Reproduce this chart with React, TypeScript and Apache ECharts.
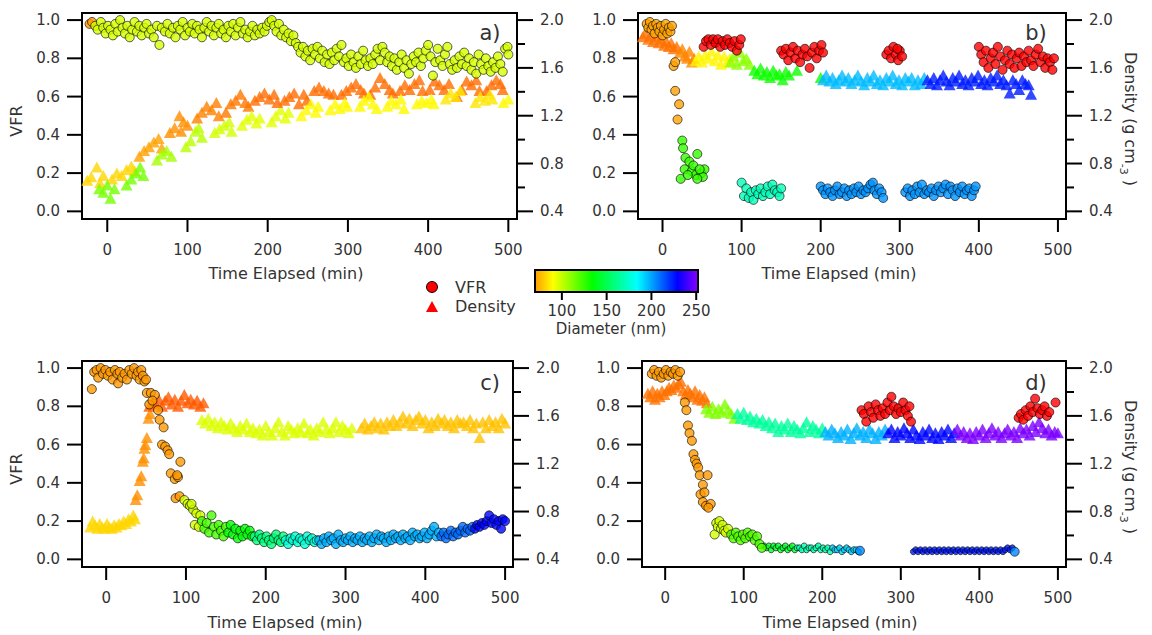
import React, { useEffect, useRef } from 'react';
import * as echarts from 'echarts';

const FONT = '"DejaVu Sans", sans-serif';
const TXT = '#333333';

const timeTicks = [0, 100, 200, 300, 400, 500];
const vfrTicks = [0, 0.2, 0.4, 0.6, 0.8, 1.0];
const densityTicks = [0.4, 0.8, 1.2, 1.6, 2.0];
const densityMinorTicks = [0.6, 1.0, 1.4, 1.8];
const diameterTicks = [100, 150, 200, 250];
const panelLetters = ['a)', 'b)', 'c)', 'd)'];
const xTitle = 'Time Elapsed (min)';

// colormap: [diameter (nm), colour]
const colorStops: [number, string][] = [
  [30, '#ff0000'], [56, '#ff5500'], [70, '#ff9900'], [90, '#ffff00'],
  [134, '#00ff00'], [184, '#00ffff'], [229, '#0000ff'], [252, '#8800ff'],
];
const BAR_MIN = 70;
const BAR_MAX = 252;

// ---------------- panel a ----------------
const aVfrStart = [[-22, 0.98], [-19, 0.99]];
const aVfrMain = [
  [-15, 0.97], [-12, 0.95], [-8, 0.99], [-5, 0.96], [-2, 0.93], [1, 0.97], [4, 0.95], [7, 0.92], [10, 0.98], [13, 0.94],
  [16, 1.0], [19, 0.96], [22, 0.93], [25, 0.97], [28, 0.91], [31, 0.95], [34, 0.99], [37, 0.94], [40, 0.97], [43, 0.92],
  [46, 0.96], [49, 0.98], [52, 0.93], [55, 0.95], [58, 0.91], [62, 0.97], [65, 0.87], [68, 0.96], [72, 0.94], [75, 0.98],
  [78, 0.93], [82, 0.96], [85, 0.91], [88, 0.97], [91, 0.95], [94, 0.99], [97, 0.92], [100, 0.96], [103, 0.94], [106, 0.98],
  [109, 0.93], [112, 0.97], [115, 0.95], [118, 0.91], [121, 0.96], [124, 0.99], [127, 0.94], [130, 0.97], [133, 0.92], [136, 0.96],
  [139, 0.98], [142, 0.93], [145, 0.95], [148, 0.91], [151, 0.97], [154, 0.94], [157, 0.98], [160, 0.92], [163, 0.96], [166, 0.99],
  [169, 0.93], [172, 0.95], [175, 0.91], [178, 0.94], [181, 0.97], [184, 0.92], [187, 0.95], [190, 0.93], [193, 0.96], [196, 0.94],
  [199, 0.97], [202, 0.99], [205, 1.0], [208, 0.97], [211, 0.94], [214, 0.98], [217, 0.92], [220, 0.95], [223, 0.91], [226, 0.93],
  [229, 0.89], [232, 0.92], [235, 0.88], [238, 0.86], [241, 0.83], [244, 0.86], [247, 0.81], [250, 0.84], [253, 0.79], [256, 0.85],
  [259, 0.82], [262, 0.86], [265, 0.8], [268, 0.84], [271, 0.78], [274, 0.82], [277, 0.77], [280, 0.83], [283, 0.79], [286, 0.85],
  [289, 0.81], [292, 0.87], [295, 0.78], [298, 0.8], [301, 0.76], [304, 0.82], [307, 0.78], [310, 0.75], [313, 0.81], [316, 0.77],
  [319, 0.84], [322, 0.79], [325, 0.76], [328, 0.8], [331, 0.77], [334, 0.82], [337, 0.85], [340, 0.79], [343, 0.86], [346, 0.83],
  [349, 0.78], [352, 0.81], [355, 0.76], [358, 0.8], [361, 0.74], [364, 0.78], [367, 0.82], [370, 0.75], [373, 0.79], [376, 0.72],
  [379, 0.77], [382, 0.81], [385, 0.78], [388, 0.83], [391, 0.76], [394, 0.8], [397, 0.84], [400, 0.87], [403, 0.81], [406, 0.71],
  [409, 0.78], [412, 0.85], [415, 0.79], [418, 0.76], [421, 0.82], [424, 0.86], [427, 0.77], [430, 0.74], [433, 0.79], [436, 0.75],
  [439, 0.81], [442, 0.77], [445, 0.83], [448, 0.76], [451, 0.8], [454, 0.74], [457, 0.78], [460, 0.72], [463, 0.82], [466, 0.77],
  [469, 0.74], [472, 0.8], [475, 0.76], [478, 0.73], [481, 0.78], [484, 0.75], [487, 0.81], [490, 0.77], [493, 0.73], [496, 0.85],
  [499, 0.86], [500, 0.82],
];
const aDens82 = [[-25, 0.66], [-20, 0.69], [-13, 0.77], [-9, 0.64], [-5, 0.70], [6, 0.67], [12, 0.72], [18, 0.70], [24, 0.75], [30, 0.78], [34, 0.74]];
const aDens114 = [[-10, 0.59], [-5, 0.56], [0, 0.62], [4, 0.51], [9, 0.59], [24, 0.62], [30, 0.67], [36, 0.72], [41, 0.77], [45, 0.70]];
const aDens72 = [[40, 0.86], [46, 0.91], [52, 0.94], [58, 0.98], [64, 1.01], [68, 0.93]];
const aDens106 = [[62, 0.83], [68, 0.88], [74, 0.91], [80, 0.86]];
const aDens68 = [[78, 1.06], [84, 1.10], [90, 1.20], [95, 1.15], [100, 1.12], [92, 1.07]];
const aDens102 = [[98, 0.94], [104, 0.99], [110, 1.07], [114, 1.10], [118, 1.02]];
const aDens65 = [[112, 1.18], [118, 1.23], [124, 1.28], [130, 1.25], [136, 1.31], [139, 1.20]];
const aDens98 = [[134, 1.06], [140, 1.09], [146, 1.12], [152, 1.15], [155, 1.07]];
const aDens63 = [[148, 1.23], [154, 1.30], [160, 1.33], [166, 1.38], [172, 1.31], [176, 1.28]];
const aDens95 = [[168, 1.12], [174, 1.17], [180, 1.20], [186, 1.14], [190, 1.18], [205, 1.15], [210, 1.20], [216, 1.25], [222, 1.18], [226, 1.23]];
const aDens61 = [
  [184, 1.33], [190, 1.36], [196, 1.39], [202, 1.34], [208, 1.38], [212, 1.31],
  [221, 1.33], [227, 1.36], [233, 1.39], [239, 1.30], [245, 1.38], [249, 1.33],
  [258, 1.41], [264, 1.44], [270, 1.41], [276, 1.39], [282, 1.38],
  [292, 1.38], [298, 1.41], [304, 1.44], [310, 1.47], [316, 1.42], [320, 1.39],
  [328, 1.38], [334, 1.44], [340, 1.52], [346, 1.47], [352, 1.42], [356, 1.39],
  [365, 1.41], [371, 1.46], [377, 1.42], [383, 1.47], [389, 1.50], [393, 1.41],
  [402, 1.42], [408, 1.49], [414, 1.46], [420, 1.42], [426, 1.47],
  [436, 1.36], [442, 1.42], [448, 1.49], [454, 1.46], [460, 1.50], [464, 1.41],
  [473, 1.41], [479, 1.46], [485, 1.50], [490, 1.47], [493, 1.42],
];
const aDens89 = [
  [242, 1.20], [248, 1.25], [254, 1.30], [260, 1.23], [263, 1.28],
  [278, 1.25], [284, 1.30], [290, 1.26], [296, 1.31], [299, 1.28],
  [315, 1.28], [320, 1.33], [326, 1.36], [331, 1.30], [336, 1.26],
  [349, 1.28], [354, 1.33], [360, 1.30], [366, 1.34], [370, 1.26],
  [386, 1.30], [392, 1.33], [398, 1.31], [404, 1.34], [407, 1.30],
  [494, 1.31], [500, 1.34],
];
const aDens85 = [[422, 1.34], [428, 1.39], [434, 1.36], [440, 1.41], [459, 1.31], [465, 1.36], [471, 1.33], [477, 1.38], [480, 1.34]];

// ---------------- panel b ----------------
const bVfrOrange = [
  [-20, 0.98], [-18, 0.96], [-16, 0.99], [-14, 0.95], [-12, 0.97], [-10, 0.93], [-8, 0.98], [-6, 0.96], [-4, 0.94], [-2, 0.97],
  [0, 0.92], [2, 0.95], [4, 0.98], [6, 0.93], [8, 0.96], [10, 0.94], [12, 0.97], [14, 0.76], [16, 0.78], [16, 0.63], [21, 0.56], [19, 0.48],
];
const bVfrGreen = [[25, 0.37], [26, 0.33], [29, 0.28], [34, 0.26], [44, 0.30], [28, 0.22], [23, 0.17], [37, 0.21], [42, 0.19], [49, 0.20], [53, 0.22], [51, 0.18], [44, 0.17], [32, 0.19], [39, 0.24], [47, 0.22]];
const bVfrTeal = [[100, 0.15], [103, 0.08], [106, 0.12], [109, 0.07], [112, 0.10], [115, 0.06], [118, 0.11], [121, 0.09], [124, 0.12], [127, 0.08], [130, 0.10], [133, 0.13], [136, 0.09], [139, 0.14], [142, 0.11], [145, 0.10], [148, 0.08], [150, 0.12]];
const bVfrBlue = [
  [200, 0.13], [203, 0.11], [206, 0.09], [209, 0.12], [212, 0.10], [215, 0.08], [218, 0.11], [221, 0.13], [224, 0.09], [227, 0.10],
  [230, 0.12], [233, 0.08], [236, 0.11], [239, 0.09], [242, 0.12], [245, 0.10], [248, 0.13], [251, 0.09], [254, 0.11], [257, 0.10],
  [260, 0.12], [263, 0.14], [266, 0.15], [268, 0.11], [271, 0.09], [274, 0.12], [277, 0.10], [279, 0.07],
  [307, 0.10], [310, 0.12], [313, 0.08], [316, 0.11], [319, 0.09], [322, 0.13], [325, 0.10], [328, 0.14], [331, 0.09], [334, 0.11],
  [337, 0.10], [340, 0.12], [343, 0.08], [346, 0.11], [349, 0.13], [352, 0.10], [355, 0.12], [358, 0.14], [361, 0.09], [364, 0.13],
  [367, 0.11], [370, 0.08], [373, 0.12], [376, 0.10], [379, 0.13], [382, 0.09], [385, 0.11], [388, 0.12], [391, 0.08], [394, 0.11], [396, 0.13],
];
const bVfrRed = [
  [52, 0.86], [55, 0.89], [58, 0.90], [61, 0.87], [64, 0.90], [67, 0.88], [70, 0.90], [73, 0.86], [76, 0.89], [79, 0.87],
  [82, 0.90], [85, 0.88], [88, 0.86], [91, 0.89], [94, 0.84], [97, 0.87], [99, 0.90],
  [150, 0.84], [153, 0.82], [156, 0.85], [159, 0.79], [162, 0.83], [165, 0.86], [168, 0.80], [171, 0.84], [174, 0.78], [177, 0.82],
  [180, 0.85], [183, 0.81], [186, 0.75], [189, 0.83], [192, 0.86], [195, 0.80], [198, 0.84], [201, 0.87], [203, 0.83],
  [283, 0.82], [286, 0.84], [289, 0.80], [292, 0.86], [295, 0.82], [298, 0.79], [300, 0.84], [303, 0.81], [297, 0.85],
  [400, 0.86], [403, 0.82], [406, 0.78], [409, 0.84], [412, 0.75], [415, 0.80], [418, 0.83], [421, 0.77], [424, 0.86], [427, 0.81],
  [430, 0.74], [433, 0.79], [436, 0.84], [439, 0.77], [442, 0.82], [445, 0.75], [448, 0.80], [451, 0.83], [454, 0.76], [457, 0.81],
  [460, 0.78], [463, 0.84], [466, 0.79], [469, 0.76], [472, 0.82], [475, 0.85], [478, 0.78], [481, 0.81], [484, 0.75], [487, 0.80],
  [490, 0.78], [493, 0.74], [495, 0.80],
];
const bDens62 = [[-25, 1.86], [-22, 1.89], [-18, 1.84], [-15, 1.87], [-12, 1.82], [-8, 1.86], [-5, 1.81], [-2, 1.84], [2, 1.79], [5, 1.82], [8, 1.78], [11, 1.81], [14, 1.76], [18, 1.78]];
const bDens66 = [[22, 1.73], [25, 1.76], [28, 1.70], [31, 1.68], [34, 1.74], [37, 1.65], [40, 1.68]];
const bDens88 = [[42, 1.66], [46, 1.70], [50, 1.65], [54, 1.71], [58, 1.68], [62, 1.74], [66, 1.66], [70, 1.71], [74, 1.63], [78, 1.70], [82, 1.65], [85, 1.68]];
const bDens110 = [[86, 1.65], [90, 1.70], [94, 1.63], [98, 1.73], [102, 1.66], [106, 1.68], [110, 1.63]];
const bDens132 = [[116, 1.58], [120, 1.55], [124, 1.60], [128, 1.54], [132, 1.57], [136, 1.52], [140, 1.58], [144, 1.54], [148, 1.55], [152, 1.50], [156, 1.57], [160, 1.54], [170, 1.58], [200, 1.52]];
const bDens196 = [
  [203, 1.50], [207, 1.54], [211, 1.49], [215, 1.52], [219, 1.47], [223, 1.50], [227, 1.54], [231, 1.49], [235, 1.52], [239, 1.47],
  [243, 1.50], [247, 1.54], [251, 1.49], [255, 1.46], [259, 1.52], [263, 1.49], [267, 1.54], [271, 1.47], [275, 1.50], [279, 1.46],
  [283, 1.52], [287, 1.49], [291, 1.54], [295, 1.47], [299, 1.50], [303, 1.46], [307, 1.52], [311, 1.49], [315, 1.52], [319, 1.46],
  [323, 1.50], [327, 1.47], [331, 1.52],
];
const bDens224 = [
  [335, 1.50], [339, 1.47], [343, 1.52], [347, 1.46], [351, 1.50], [355, 1.54], [359, 1.49], [363, 1.46], [367, 1.52], [371, 1.49],
  [375, 1.54], [379, 1.47], [383, 1.50], [387, 1.46], [391, 1.52], [395, 1.49], [399, 1.54], [403, 1.47], [407, 1.50], [411, 1.46],
  [415, 1.52], [419, 1.49], [423, 1.54], [427, 1.47], [431, 1.50], [435, 1.46], [439, 1.39], [443, 1.50], [447, 1.47], [451, 1.42],
  [455, 1.50], [459, 1.47], [463, 1.46], [466, 1.38],
];

// ---------------- panel c ----------------
const cVfrOrange = [
  [-18, 0.89], [-15, 0.98], [-12, 0.99], [-10, 0.95], [-7, 1.0], [-4, 0.97], [-1, 0.99], [2, 0.96], [5, 0.98], [8, 0.94],
  [11, 0.99], [14, 0.97], [15, 0.92], [17, 0.98], [20, 0.95], [23, 0.97], [26, 0.94], [29, 0.99], [32, 0.97], [35, 1.0],
  [38, 0.96], [40, 0.98], [42, 0.94], [44, 0.99], [46, 0.96], [48, 0.93], [50, 0.94], [51, 0.87], [56, 0.87], [61, 0.86],
  [54, 0.81], [58, 0.83], [65, 0.78], [67, 0.73], [72, 0.69], [70, 0.60], [74, 0.59], [77, 0.57], [79, 0.55], [93, 0.51],
  [81, 0.45], [86, 0.42], [90, 0.43], [89, 0.44], [87, 0.32], [92, 0.33],
];
const cVfrYG = [[98, 0.31], [102, 0.29], [105, 0.28], [109, 0.26], [113, 0.24], [118, 0.23], [111, 0.18], [116, 0.17], [107, 0.29]];
const cVfrGreen1 = [[120, 0.20], [123, 0.16], [126, 0.19], [129, 0.14], [132, 0.23], [135, 0.17], [138, 0.13], [141, 0.18], [144, 0.15], [147, 0.12], [150, 0.17]];
const cVfrGreen2 = [[153, 0.14], [156, 0.18], [159, 0.13], [162, 0.16], [165, 0.11], [168, 0.15], [171, 0.12], [174, 0.16], [177, 0.13], [180, 0.15], [183, 0.12]];
const cVfrTeal1 = [[186, 0.12], [189, 0.10], [192, 0.13], [195, 0.11], [198, 0.09], [201, 0.12], [204, 0.10], [207, 0.08], [210, 0.11], [213, 0.13], [216, 0.10], [219, 0.09], [222, 0.12]];
const cVfrTeal2 = [[225, 0.10], [228, 0.08], [231, 0.11], [234, 0.10], [237, 0.12], [240, 0.09], [243, 0.11], [246, 0.10], [249, 0.08], [252, 0.12], [255, 0.10], [258, 0.11], [261, 0.09], [264, 0.10]];
const cVfrSky = [
  [267, 0.10], [270, 0.08], [273, 0.11], [276, 0.09], [279, 0.12], [282, 0.10], [285, 0.11], [288, 0.08], [291, 0.13], [294, 0.10],
  [297, 0.09], [300, 0.11], [303, 0.10], [306, 0.12], [309, 0.09], [312, 0.11], [315, 0.10], [318, 0.12], [321, 0.09], [324, 0.11],
  [327, 0.10], [330, 0.12], [333, 0.09], [336, 0.11], [339, 0.13], [342, 0.10], [345, 0.12], [348, 0.11], [351, 0.09], [354, 0.12],
  [357, 0.10], [360, 0.13], [363, 0.11], [366, 0.12], [369, 0.10], [372, 0.13], [375, 0.11], [378, 0.12], [381, 0.10], [384, 0.14],
  [387, 0.12], [390, 0.13], [393, 0.11], [396, 0.12], [399, 0.14], [402, 0.11], [405, 0.13], [408, 0.15], [411, 0.17], [414, 0.12], [417, 0.14],
];
const cVfrBlue1 = [[420, 0.12], [423, 0.14], [426, 0.11], [429, 0.13], [432, 0.15], [435, 0.12], [438, 0.14], [441, 0.13], [444, 0.15], [447, 0.17], [450, 0.14], [453, 0.16], [456, 0.15], [459, 0.17]];
const cVfrBlue2 = [[462, 0.16], [465, 0.18], [468, 0.17], [471, 0.19], [474, 0.18], [477, 0.20], [480, 0.23], [483, 0.19], [486, 0.21], [489, 0.18], [492, 0.20], [495, 0.16], [497, 0.21], [500, 0.20]];
const cDens82 = [[-20, 0.67], [-17, 0.72], [-14, 0.69], [-11, 0.66], [-8, 0.70], [-5, 0.67], [-2, 0.66], [1, 0.70], [4, 0.67], [7, 0.66], [10, 0.69], [13, 0.67], [16, 0.70], [19, 0.69], [22, 0.72], [25, 0.70], [28, 0.74], [31, 0.72], [34, 0.77], [36, 0.74]];
const cDens68 = [[37, 0.90], [39, 0.94], [42, 1.06], [44, 1.10], [46, 1.22], [47, 1.25], [48, 1.33], [49, 1.36], [51, 1.42], [53, 1.58], [55, 1.62]];
const cDens57 = [[54, 1.68], [58, 1.71], [62, 1.70], [66, 1.74], [70, 1.68], [74, 1.73], [78, 1.76], [82, 1.70], [86, 1.74], [90, 1.68], [94, 1.73], [98, 1.78], [102, 1.71], [106, 1.74], [110, 1.70], [114, 1.73], [118, 1.68], [122, 1.71]];
const cDens96 = [
  [120, 1.57], [124, 1.54], [128, 1.58], [132, 1.52], [136, 1.55], [140, 1.50], [144, 1.55], [148, 1.52], [152, 1.49], [156, 1.54],
  [160, 1.50], [164, 1.47], [168, 1.52], [172, 1.49], [176, 1.54], [180, 1.47], [184, 1.50], [188, 1.46], [192, 1.49], [196, 1.44],
  [200, 1.52], [204, 1.47], [208, 1.44], [212, 1.50], [216, 1.55], [220, 1.47], [224, 1.44], [228, 1.52], [232, 1.49], [236, 1.46],
  [240, 1.50], [244, 1.47], [248, 1.54], [252, 1.46], [256, 1.49], [260, 1.44], [264, 1.50], [268, 1.47], [272, 1.55], [276, 1.49],
  [280, 1.46], [284, 1.50], [288, 1.55], [292, 1.47], [296, 1.52], [300, 1.49], [304, 1.46], [308, 1.50],
];
const cDens78 = [
  [320, 1.50], [324, 1.54], [328, 1.49], [332, 1.52], [336, 1.55], [340, 1.50], [344, 1.54], [348, 1.49], [352, 1.55], [356, 1.52],
  [360, 1.57], [364, 1.52], [368, 1.55], [372, 1.60], [376, 1.54], [380, 1.58], [384, 1.52], [388, 1.57], [392, 1.60], [396, 1.54],
  [400, 1.57], [404, 1.50], [408, 1.55], [412, 1.52], [416, 1.58], [420, 1.54], [424, 1.57], [428, 1.52], [432, 1.55], [436, 1.50],
  [440, 1.57], [444, 1.54], [448, 1.55], [452, 1.52], [456, 1.57], [460, 1.50], [464, 1.54], [468, 1.42], [472, 1.55], [476, 1.50],
  [480, 1.57], [484, 1.52], [488, 1.55], [492, 1.50], [496, 1.58], [500, 1.54],
];

// ---------------- panel d ----------------
const dVfrOrange = [
  [-17, 0.97], [-14, 0.99], [-11, 0.96], [-8, 0.98], [-5, 0.95], [-2, 0.97], [1, 0.99], [4, 0.96], [7, 0.98], [10, 0.97],
  [13, 0.99], [16, 0.96], [19, 0.98], [25, 0.82], [27, 0.78], [29, 0.70], [31, 0.66], [34, 0.62], [36, 0.55], [38, 0.52],
  [40, 0.50], [42, 0.48], [44, 0.44], [54, 0.44], [48, 0.39], [45, 0.34], [50, 0.35], [48, 0.30], [52, 0.28], [58, 0.29], [55, 0.27],
];
const dVfrYG = [[63, 0.13], [65, 0.19], [67, 0.17], [69, 0.20], [71, 0.16], [73, 0.18], [75, 0.15], [77, 0.14], [80, 0.16]];
const dVfrGreen = [[84, 0.13], [87, 0.11], [90, 0.14], [93, 0.12], [96, 0.10], [99, 0.13], [102, 0.11], [105, 0.14], [108, 0.12], [111, 0.13], [114, 0.10], [117, 0.12], [120, 0.08], [123, 0.06]];
const dVfrEnds = [[248, 0.045], [445, 0.04]];
const dVfrFine1 = [[126, 0.07], [129, 0.06], [132, 0.07], [135, 0.05], [138, 0.07], [141, 0.06], [144, 0.07], [147, 0.05], [150, 0.06], [153, 0.07], [156, 0.05], [159, 0.06], [162, 0.07], [165, 0.05]];
const dVfrFine2 = [[168, 0.06], [171, 0.06], [174, 0.05], [177, 0.07], [180, 0.05], [183, 0.06], [186, 0.06], [189, 0.05], [192, 0.06], [195, 0.07], [198, 0.05], [201, 0.06], [204, 0.05], [207, 0.06], [210, 0.04]];
const dVfrFine3 = [[213, 0.06], [216, 0.05], [219, 0.05], [222, 0.06], [225, 0.04], [228, 0.05], [231, 0.06], [234, 0.05], [237, 0.04], [240, 0.05], [243, 0.05], [246, 0.04]];
const dVfrFine4 = [
  [316, 0.04], [319, 0.05], [322, 0.04], [325, 0.05], [328, 0.04], [331, 0.05], [334, 0.04], [337, 0.05], [340, 0.04], [343, 0.05],
  [346, 0.04], [349, 0.05], [352, 0.04], [355, 0.05], [358, 0.04], [361, 0.05], [364, 0.04], [367, 0.05], [370, 0.04], [373, 0.05],
  [376, 0.04], [379, 0.05], [382, 0.04], [385, 0.05], [388, 0.04], [391, 0.05], [394, 0.04], [397, 0.05], [400, 0.04], [403, 0.05],
  [406, 0.04], [409, 0.05], [412, 0.04], [415, 0.05], [418, 0.04], [421, 0.05], [424, 0.04], [427, 0.05], [430, 0.04], [433, 0.05],
  [436, 0.06], [439, 0.05], [442, 0.06],
];
const dVfrRed = [
  [250, 0.78], [253, 0.76], [256, 0.72], [259, 0.80], [262, 0.77], [265, 0.74], [268, 0.81], [271, 0.78], [274, 0.75], [277, 0.79],
  [280, 0.76], [283, 0.82], [286, 0.78], [288, 0.85], [291, 0.80], [294, 0.76], [297, 0.79], [300, 0.77], [303, 0.82], [306, 0.78],
  [309, 0.75], [311, 0.80], [313, 0.72],
  [450, 0.74], [453, 0.76], [456, 0.73], [459, 0.78], [462, 0.75], [465, 0.80], [468, 0.77], [471, 0.84], [474, 0.79], [477, 0.76],
  [480, 0.78], [483, 0.80], [486, 0.75], [489, 0.77], [497, 0.82],
];
const dDens62 = [[-22, 1.79], [-19, 1.76], [-16, 1.81], [-13, 1.74], [-10, 1.79], [-7, 1.76], [-4, 1.81], [-1, 1.78], [2, 1.81], [5, 1.84], [8, 1.82], [11, 1.86], [14, 1.84], [17, 1.87], [20, 1.89], [23, 1.81], [26, 1.78], [29, 1.82], [32, 1.79], [35, 1.76], [38, 1.81], [41, 1.74], [44, 1.78], [47, 1.73], [50, 1.76], [53, 1.71]];
const dDens112 = [[52, 1.66], [56, 1.63], [60, 1.68], [64, 1.62], [68, 1.66], [72, 1.63], [76, 1.70], [80, 1.65], [84, 1.62], [88, 1.58]];
const dDens165 = [
  [92, 1.62], [96, 1.58], [100, 1.63], [104, 1.57], [108, 1.60], [112, 1.55], [116, 1.58], [120, 1.54], [124, 1.57], [128, 1.52],
  [132, 1.55], [136, 1.50], [140, 1.54], [144, 1.47], [148, 1.52], [152, 1.49], [156, 1.54], [160, 1.47], [164, 1.52], [168, 1.49],
  [172, 1.46], [176, 1.50], [180, 1.55], [184, 1.47], [188, 1.52], [192, 1.49], [196, 1.46], [200, 1.50],
];
const dDens198 = [[204, 1.47], [208, 1.44], [212, 1.49], [216, 1.46], [220, 1.42], [224, 1.47], [228, 1.44], [232, 1.49], [236, 1.41], [240, 1.46], [244, 1.50], [248, 1.44], [252, 1.47], [256, 1.42], [260, 1.49], [264, 1.46], [268, 1.41], [272, 1.47], [276, 1.44], [280, 1.49]];
const dDens228 = [[284, 1.46], [288, 1.49], [292, 1.42], [296, 1.47], [300, 1.44], [304, 1.50], [308, 1.46], [312, 1.42], [316, 1.49], [320, 1.44], [324, 1.41], [328, 1.47], [332, 1.44], [336, 1.49], [340, 1.42], [344, 1.46], [348, 1.41], [352, 1.47], [356, 1.44], [360, 1.49], [364, 1.42], [368, 1.46]];
const dDens250 = [
  [372, 1.49], [376, 1.44], [380, 1.47], [384, 1.42], [388, 1.46], [392, 1.41], [396, 1.47], [400, 1.44], [404, 1.49], [408, 1.42],
  [412, 1.46], [416, 1.50], [420, 1.44], [424, 1.47], [428, 1.42], [432, 1.46], [436, 1.49], [440, 1.44], [444, 1.47], [448, 1.42],
  [452, 1.50], [456, 1.46], [460, 1.49], [464, 1.44], [468, 1.52], [472, 1.47], [476, 1.55], [480, 1.50], [484, 1.46], [488, 1.49],
  [492, 1.44], [496, 1.47], [500, 1.46],
];

// ---------------- helpers ----------------
type Seg = [number[][], number];
const build = (list: Seg[]) => list.flatMap(([pts, d]) => pts.map((p) => [p[0], p[1], d]));

function hexToRgb(h: string) {
  return [parseInt(h.slice(1, 3), 16), parseInt(h.slice(3, 5), 16), parseInt(h.slice(5, 7), 16)];
}
function diamColor(d: number): string {
  const s = colorStops;
  if (d <= s[0][0]) return s[0][1];
  for (let i = 0; i < s.length - 1; i++) {
    const [d0, c0] = s[i];
    const [d1, c1] = s[i + 1];
    if (d <= d1) {
      const f = (d - d0) / (d1 - d0);
      const a = hexToRgb(c0);
      const b = hexToRgb(c1);
      return `rgb(${Math.round(a[0] + (b[0] - a[0]) * f)},${Math.round(a[1] + (b[1] - a[1]) * f)},${Math.round(a[2] + (b[2] - a[2]) * f)})`;
    }
  }
  return s[s.length - 1][1];
}

const panels = [
  {
    grid: { left: 82, top: 13, width: 435, height: 206 },
    xr: [-31.5, 510.8],
    dens: build([[aDens82, 82], [aDens114, 114], [aDens72, 72], [aDens106, 106], [aDens68, 68], [aDens102, 102], [aDens65, 65], [aDens98, 98], [aDens63, 63], [aDens95, 95], [aDens61, 61], [aDens89, 89], [aDens85, 85]]),
    vfr: build([[aVfrStart, 70], [aVfrMain, 97]]),
    fine: [] as number[][],
  },
  {
    grid: { left: 638, top: 13, width: 428, height: 206 },
    xr: [-31, 510.2],
    dens: build([[bDens62, 62], [bDens66, 66], [bDens88, 88], [bDens110, 110], [bDens132, 132], [bDens196, 196], [bDens224, 224]]),
    vfr: build([[bVfrOrange, 72], [bVfrGreen, 125], [bVfrTeal, 170], [bVfrBlue, 203], [bVfrRed, 30]]),
    fine: [] as number[][],
  },
  {
    grid: { left: 82, top: 361, width: 431, height: 206 },
    xr: [-30.3, 509.9],
    dens: build([[cDens82, 82], [cDens68, 68], [cDens57, 57], [cDens96, 96], [cDens78, 78]]),
    vfr: build([[cVfrOrange, 70], [cVfrYG, 98], [cVfrGreen1, 122], [cVfrGreen2, 135], [cVfrTeal1, 158], [cVfrTeal2, 176], [cVfrSky, 198], [cVfrBlue1, 210], [cVfrBlue2, 228]]),
    fine: [] as number[][],
  },
  {
    grid: { left: 642, top: 361, width: 424, height: 206 },
    xr: [-29.5, 510.3],
    dens: build([[dDens62, 62], [dDens112, 112], [dDens165, 165], [dDens198, 198], [dDens228, 228], [dDens250, 250]]),
    vfr: build([[dVfrOrange, 70], [dVfrYG, 98], [dVfrGreen, 120], [dVfrEnds, 205], [dVfrRed, 30]]),
    fine: build([[dVfrFine1, 142], [dVfrFine2, 168], [dVfrFine3, 192], [dVfrFine4, 224]]),
  },
];

const VFR_RANGE = [-0.04, 1.037];
const DENS_RANGE = [0.336, 2.0592];

function buildOption() {
  const grid: any[] = [];
  const xAxis: any[] = [];
  const yAxis: any[] = [];
  const series: any[] = [];

  const plainAxis = (gi: number, pos: string, range: number[]) => ({
    gridIndex: gi, type: 'value', position: pos, min: range[0], max: range[1],
    axisLine: { show: false, onZero: false }, splitLine: { show: false }, axisTick: { show: false }, axisLabel: { show: false },
  });

  // ticks (and their labels) placed through the axes' own scales with api.coord
  // mode: 'L' left, 'R' right, 'B' bottom
  const tickSeries = (xi: number, yi: number, pts: number[][], mode: string, len: number, withLabel: boolean, labelIdx: number) => ({
    type: 'custom', xAxisIndex: xi, yAxisIndex: yi, data: pts, clip: false, silent: true, z: 5,
    renderItem: (_params: any, api: any) => {
      const c = api.coord([api.value(0), api.value(1)]);
      let x2 = c[0], y2 = c[1];
      if (mode === 'L') x2 -= len;
      else if (mode === 'R') x2 += len;
      else y2 += len;
      const children: any[] = [
        { type: 'line', shape: { x1: c[0], y1: c[1], x2, y2 }, style: { stroke: '#000', lineWidth: 2 } },
      ];
      if (withLabel) {
        const v = api.value(labelIdx);
        const text = mode === 'B' ? String(Math.round(v)) : v.toFixed(1);
        const gap = mode === 'L' ? 22 : 23;
        const x = mode === 'L' ? c[0] - gap : mode === 'R' ? c[0] + gap : c[0];
        const y = mode === 'B' ? c[1] + gap : c[1];
        children.push({
          type: 'text', x, y,
          style: {
            text, fill: TXT, fontSize: 15, fontFamily: FONT,
            align: mode === 'L' ? 'right' : mode === 'R' ? 'left' : 'center',
            verticalAlign: mode === 'B' ? 'top' : 'middle',
          },
        });
      }
      return { type: 'group', children };
    },
  });

  panels.forEach((p, i) => {
    grid.push({ ...p.grid, show: true, borderColor: '#000', borderWidth: 2, backgroundColor: 'transparent', containLabel: false });
    xAxis.push(plainAxis(i, 'bottom', p.xr));
    yAxis.push(plainAxis(i, 'left', VFR_RANGE));
    yAxis.push(plainAxis(i, 'right', DENS_RANGE));
    const yv = i * 2;
    const yd = i * 2 + 1;

    series.push(tickSeries(i, yv, timeTicks.map((t) => [t, VFR_RANGE[0]]), 'B', 13, true, 0));
    series.push(tickSeries(i, yv, vfrTicks.map((v) => [p.xr[0], v]), 'L', 15, true, 1));
    series.push(tickSeries(i, yd, densityTicks.map((v) => [p.xr[1], v]), 'R', 16, true, 1));
    series.push(tickSeries(i, yd, densityMinorTicks.map((v) => [p.xr[1], v]), 'R', 8, false, 1));

    series.push({
      type: 'scatter', xAxisIndex: i, yAxisIndex: yd, data: p.dens,
      symbol: 'triangle', symbolSize: [12, 11], silent: true,
      itemStyle: { color: (prm: any) => diamColor(prm.value[2]) },
    });
    if (p.fine.length) {
      series.push({
        type: 'scatter', xAxisIndex: i, yAxisIndex: yv, data: p.fine,
        symbol: 'circle', symbolSize: 6, silent: true,
        itemStyle: { color: (prm: any) => diamColor(prm.value[2]), borderColor: '#000', borderWidth: 0.8 },
      });
    }
    series.push({
      type: 'scatter', xAxisIndex: i, yAxisIndex: yv, data: p.vfr,
      symbol: 'circle', symbolSize: 9, silent: true,
      itemStyle: { color: (prm: any) => diamColor(prm.value[2]), borderColor: '#000', borderWidth: 0.8 },
    });
  });

  const txt = (text: string, x: number, y: number, size: number, extra: any = {}) => ({
    type: 'text', x, y, rotation: extra.rotation || 0,
    style: { text, fill: TXT, fontSize: size, fontFamily: FONT, align: extra.align || 'center', verticalAlign: 'middle' },
  });

  const graphic: any[] = [];
  [[286, 273], [839, 273], [285, 622], [840, 622]].forEach(([x, y]) => graphic.push(txt(xTitle, x, y, 16)));
  [[16, 121], [16, 469]].forEach(([x, y]) => graphic.push(txt('VFR', x, y, 16, { rotation: Math.PI / 2 })));
  [[1130, 119], [1130, 467]].forEach(([x, y]) =>
    graphic.push({
      type: 'text', x, y, rotation: -Math.PI / 2,
      style: {
        text: 'Density (g cm{s|-3}{n| )}', fill: TXT, fontSize: 16, fontFamily: FONT, align: 'center', verticalAlign: 'middle',
        rich: { s: { fontSize: 11, fontFamily: FONT, fill: TXT, verticalAlign: 'bottom', lineHeight: 24 }, n: { fontSize: 16, fontFamily: FONT, fill: TXT } },
      },
    })
  );
  [[490, 33], [1036, 33], [490, 383], [1036, 383]].forEach(([x, y], i) => graphic.push(txt(panelLetters[i], x, y, 21)));

  // legend
  graphic.push({ type: 'circle', shape: { cx: 432, cy: 287, r: 5.5 }, style: { fill: '#ff0000', stroke: '#000', lineWidth: 1 } });
  graphic.push({ type: 'polygon', shape: { points: [[426, 312], [438, 312], [432, 301]] }, style: { fill: '#ff0000' } });
  graphic.push(txt('VFR', 455, 287, 16, { align: 'left' }));
  graphic.push(txt('Density', 455, 306, 16, { align: 'left' }));

  // colour bar
  const barX = 535, barY = 270, barW = 163, barH = 22;
  const gradStops = colorStops.filter((s) => s[0] >= BAR_MIN).map((s) => ({ offset: (s[0] - BAR_MIN) / (BAR_MAX - BAR_MIN), color: s[1] }));
  graphic.push({
    type: 'rect', shape: { x: barX, y: barY, width: barW, height: barH },
    style: { fill: new echarts.graphic.LinearGradient(0, 0, 1, 0, gradStops), stroke: '#000', lineWidth: 2 },
  });
  diameterTicks.forEach((v) => {
    const x = barX + ((v - BAR_MIN) / (BAR_MAX - BAR_MIN)) * barW;
    graphic.push({ type: 'line', shape: { x1: x, y1: barY + barH, x2: x, y2: barY + barH + 8 }, style: { stroke: '#000', lineWidth: 2 } });
    graphic.push(txt(String(v), x, 311, 15));
  });
  graphic.push(txt('Diameter (nm)', 611, 329, 15));

  return {
    animation: false,
    textStyle: { fontFamily: FONT },
    grid, xAxis, yAxis, series, graphic,
  };
}

export default function App() {
  const ref = useRef<HTMLDivElement>(null);
  useEffect(() => {
    if (!ref.current) return;
    const chart = echarts.init(ref.current, undefined, { renderer: 'svg' });
    chart.setOption(buildOption() as any);
    return () => chart.dispose();
  }, []);
  return <div ref={ref} style={{ position: 'absolute', left: 0, top: 0, width: 1152, height: 635, background: '#fff' }} />;
}
